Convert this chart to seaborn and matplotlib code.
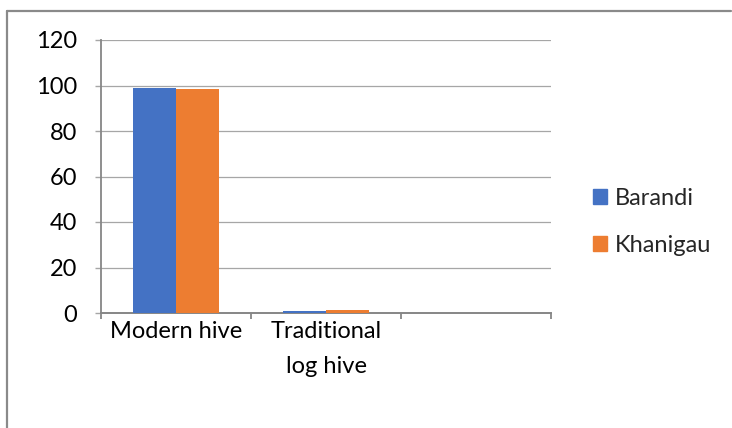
import matplotlib
matplotlib.use("Agg")
import matplotlib.pyplot as plt
from matplotlib.lines import Line2D
import seaborn as sns
import pandas as pd

# Share of hive types per site (%)
categories = ["Modern hive", "Traditional\nlog hive", ""]
barandi = [98.9, 1.0]
khanigau = [98.5, 1.2]
sites = ["Barandi", "Khanigau"]
colors = ["#4472C4", "#ED7D31"]
yticks = [0, 20, 40, 60, 80, 100, 120]

rows = []
for cat, b, k in zip(categories, barandi, khanigau):
    rows.append({"hive": cat, "site": sites[0], "value": b})
    rows.append({"hive": cat, "site": sites[1], "value": k})
df = pd.DataFrame(rows)

sns.set_theme(style="white")
plt.rcParams["font.family"] = ["Lato", "DejaVu Sans"]
FS = 17

fig = plt.figure(figsize=(7.32, 4.28), dpi=100)
ax = fig.add_axes([101 / 732, 1 - 313 / 428, 450 / 732, 273 / 428])

sns.barplot(data=df, x="hive", y="value", hue="site", order=categories,
            hue_order=sites, palette=colors, width=0.57, gap=0,
            saturation=1, errorbar=None, ax=ax, legend=False,
            linewidth=0, zorder=6)

ax.set_xlim(-0.5, 2.5)
ax.set_ylim(0, 120)
ax.set_yticks(yticks)
ax.set_yticklabels([str(v) for v in yticks])
ax.set_xlabel("")
ax.set_ylabel("")

grid_c = "#a6a6a6"
axis_c = "#868686"
for y in yticks[1:]:
    ax.axhline(y, color=grid_c, lw=0.9, zorder=0)
for s in ["top", "right"]:
    ax.spines[s].set_visible(False)
ax.spines["left"].set_color(axis_c)
ax.spines["left"].set_linewidth(1.3)
ax.spines["bottom"].set_color(axis_c)
ax.spines["bottom"].set_linewidth(1.4)
ax.spines["bottom"].set_zorder(5)

ax.tick_params(axis="y", which="major", direction="out", length=4.5,
               width=1.0, color=grid_c, pad=12.5, labelsize=FS,
               labelcolor="#000000", left=True)
ax.tick_params(axis="x", which="major", length=0, pad=6, labelsize=FS,
               labelcolor="#000000")
ax.set_xticks([-0.5, 0.5, 1.5, 2.5], minor=True)
ax.tick_params(axis="x", which="minor", direction="out", length=4.5,
               width=1.3, color=axis_c, bottom=True)
for lbl in ax.get_xticklabels():
    lbl.set_linespacing(1.8)
    lbl.set_verticalalignment("top")

handles = [plt.Rectangle((0, 0), 1, 1, color=c) for c in colors]
ax.legend(handles, sites, loc="center left", bbox_to_anchor=(1.093, 0.333),
          frameon=False, fontsize=FS, handlelength=0.6, handleheight=0.6,
          handletextpad=0.35, labelspacing=1.1, borderaxespad=0,
          borderpad=0)

# Outer frame (top and left edges)
fig.add_artist(Line2D([7 / 732, 731 / 732], [1 - 11 / 428, 1 - 11 / 428],
                      transform=fig.transFigure, color="#8a8a8a", lw=1.6))
fig.add_artist(Line2D([7 / 732, 7 / 732], [0, 1 - 11 / 428],
                      transform=fig.transFigure, color="#8a8a8a", lw=1.6))

fig.savefig("out.png", dpi=100)
